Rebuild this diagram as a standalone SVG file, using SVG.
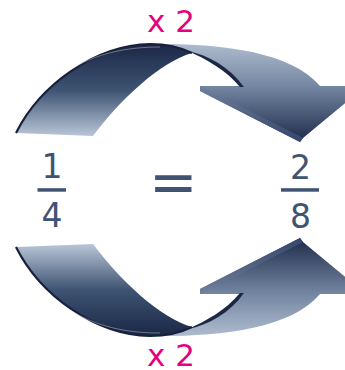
<svg xmlns="http://www.w3.org/2000/svg" width="345" height="370" viewBox="0 0 345 370">
  <defs>
    <linearGradient id="gFront" gradientUnits="userSpaceOnUse" x1="0" y1="44" x2="0" y2="137">
      <stop offset="0" stop-color="#1b2747"/>
      <stop offset="0.5" stop-color="#3e5472"/>
      <stop offset="1" stop-color="#bcc8da"/>
    </linearGradient>
    <linearGradient id="gBack" gradientUnits="userSpaceOnUse" x1="0" y1="44" x2="0" y2="142">
      <stop offset="0" stop-color="#aebbce"/>
      <stop offset="0.45" stop-color="#71849f"/>
      <stop offset="1" stop-color="#1e2b4a"/>
    </linearGradient>
    <linearGradient id="gSide" gradientUnits="userSpaceOnUse" x1="0" y1="86" x2="0" y2="142">
      <stop offset="0" stop-color="#6f819b"/>
      <stop offset="1" stop-color="#34466a"/>
    </linearGradient>
    <g id="arrow">
      <path fill="url(#gBack)" d="M150,44 C215,43 290,50 320,86 L366,86 L303,138 L300,142 L200,91 L200,86 L243,86 C228,66 208,56 190,52 Z"/>
      <path fill="url(#gSide)" d="M200,86 L303,138 L300,142 L200,91 Z"/>
      <path fill="#1b2745" d="M188,51 C208,55 230,67 244,87 L240,87 C226,70 206,59 188,51 Z"/>
      <path fill="url(#gFront)" d="M16,133 C40,85 95,45 150,44 C165,44 180,47 192,53 C160,62 120,100 93,136 Z"/>
      <path fill="none" stroke="#17213c" stroke-width="2.2" d="M16,133 C40,85 95,45 150,44 C165,44 180,47 192,53"/>
      <path fill="none" stroke="#ffffff" stroke-opacity="0.45" stroke-width="0.8" d="M70,70 C95,54 125,47 160,47"/>
    </g>
  </defs>
  <style>
    .mul { font-family: "DejaVu Sans", Verdana, sans-serif; font-size: 31px; fill: #e6007e; }
    .num { font-family: "DejaVu Sans", Verdana, sans-serif; font-size: 33px; fill: #3e5472; text-anchor: middle; }
    .bar { fill: #3e5472; }
  </style>
  <g id="connectors">
    <use id="arrow-top" href="#arrow"/>
    <use id="arrow-bottom" href="#arrow" transform="translate(0,380) scale(1,-1)"/>
  </g>
  <g id="label-top"><text class="mul" x="147" y="32">x 2</text></g>
  <g id="label-bottom"><text class="mul" x="147" y="366">x 2</text></g>
  <g id="frac-left">
    <text class="num" x="52" y="178">1</text>
    <rect class="bar" x="37.5" y="188.2" width="28.5" height="3.5"/>
    <text class="num" x="52" y="227">4</text>
  </g>
  <g id="equals">
    <text class="num" x="173.3" y="202" style="font-size:58px">=</text>
  </g>
  <g id="frac-right">
    <text class="num" x="300.5" y="178.5">2</text>
    <rect class="bar" x="281" y="188.2" width="38" height="3.5"/>
    <text class="num" x="300.5" y="228">8</text>
  </g>
</svg>
